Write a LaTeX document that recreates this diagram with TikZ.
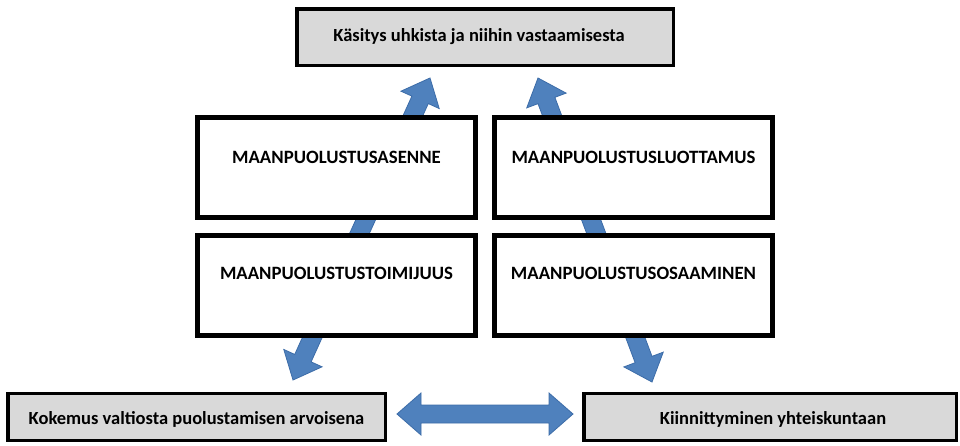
\documentclass[tikz,border=0pt]{standalone}
\usepackage{fontspec}
\setmainfont{Carlito}
\usetikzlibrary{calc}
\definecolor{boxgray}{HTML}{D9D9D9}
\definecolor{arrblue}{HTML}{4F81BD}
\definecolor{arredge}{HTML}{3C6CA8}
\tikzset{
  outerbox/.style={draw=black, line width=3.5pt, fill=boxgray, inner sep=0pt},
  midbox/.style={draw=black, line width=5pt, fill=white, inner sep=0pt,
    minimum width=278pt, minimum height=100pt},
  smalltext/.style={font=\fontsize{18.5}{21}\selectfont\bfseries, inner sep=0pt},
  captext/.style={font=\fontsize{18.8}{21}\selectfont\bfseries, inner sep=0pt},
  blockarrow/.style={fill=arrblue, draw=arredge, line width=0.8pt, line join=miter}
}
% double block arrow between two named coordinates
\newcommand\dblblockarrow[2]{%
  \coordinate (HA) at ($(#1)!24pt!(#2)$);
  \coordinate (HB) at ($(#2)!24pt!(#1)$);
  \draw[blockarrow] (#1) -- ($(HA)!21pt!90:(#2)$) -- ($(HA)!9pt!90:(#2)$)
    -- ($(HB)!9pt!-90:(#1)$) -- ($(HB)!21pt!-90:(#1)$) -- (#2)
    -- ($(HB)!21pt!90:(#1)$) -- ($(HB)!9pt!90:(#1)$)
    -- ($(HA)!9pt!-90:(#2)$) -- ($(HA)!21pt!-90:(#2)$) -- cycle;
}
\begin{document}
\begin{tikzpicture}[x=1pt,y=-1pt]
\useasboundingbox (0,0) rectangle (960,445);
\fill[white] (0,0) rectangle (960,445);

% arrow end points
\coordinate (la) at (293,380);
\coordinate (lb) at (430,78);
\coordinate (ra) at (652,382);
\coordinate (rb) at (538,78);

\dblblockarrow{la}{lb}
\dblblockarrow{ra}{rb}

% top box
\node[outerbox, minimum width=376.5pt, minimum height=56.5pt] (kasitys) at (485,37) {};
\node[smalltext] (kasitys-t) at ($(kasitys.center)+(-6,0)$) {Käsitys uhkista ja niihin vastaamisesta};

% middle boxes
\node[midbox] (asenne) at (336.5,167.5) {};
\node[captext] (asenne-t) at ($(asenne.center)+(0,-10)$) {MAANPUOLUSTUSASENNE};
\node[midbox] (luottamus) at (633.5,167.5) {};
\node[captext] (luottamus-t) at ($(luottamus.center)+(0,-10)$) {MAANPUOLUSTUSLUOTTAMUS};
\node[midbox] (toimijuus) at (336.5,285.5) {};
\node[captext] (toimijuus-t) at ($(toimijuus.center)+(0,-12)$) {MAANPUOLUSTUSTOIMIJUUS};
\node[midbox] (osaaminen) at (633.5,285.5) {};
\node[captext] (osaaminen-t) at ($(osaaminen.center)+(0,-12)$) {MAANPUOLUSTUSOSAAMINEN};

% bottom boxes
\node[outerbox, minimum width=377.5pt, minimum height=47pt] (kokemus) at (196.5,417) {};
\node[smalltext] (kokemus-t) at ($(kokemus.center)+(0,2)$) {Kokemus valtiosta puolustamisen arvoisena};
\node[outerbox, minimum width=372.5pt, minimum height=47pt] (kiinn) at (770,417) {};
\node[smalltext] (kiinn-t) at ($(kiinn.center)+(3,2)$) {Kiinnittyminen yhteiskuntaan};

% horizontal arrow
\coordinate (ha) at ($(kokemus.east)+(10,-3)$);
\coordinate (hb) at ($(kiinn.west)+(-9,-3)$);
\dblblockarrow{ha}{hb}
\end{tikzpicture}
\end{document}
